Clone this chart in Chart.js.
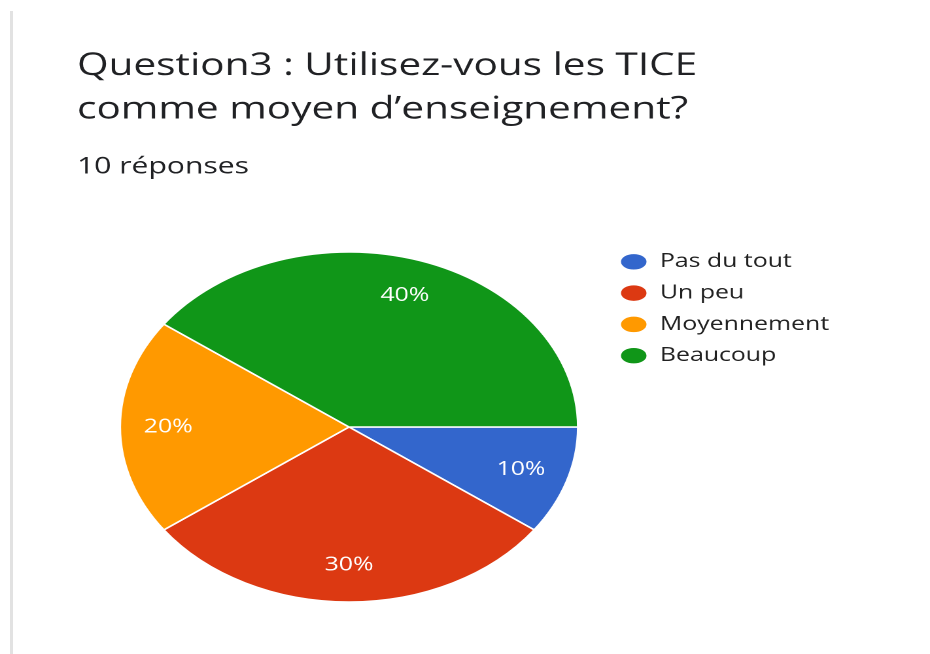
<!DOCTYPE html>
<html lang="fr">
<head>
<meta charset="utf-8">
<title>Question3</title>
<script src="https://cdn.jsdelivr.net/npm/chart.js@4.4.1/dist/chart.umd.min.js"></script>
<style>
    html, body { margin: 0; padding: 0; background: #ffffff; }
    #wrap { position: relative; width: 930px; height: 654px; overflow: hidden; }
    #edge { position: absolute; left: 10px; top: 11px; width: 3px; height: 643px; background: #e2e2e2; }
    /* the reference screenshot is stretched sideways, so the canvas is too */
    #chart { position: absolute; left: 0; top: 0; width: 930px !important; height: 654px !important; }
</style>
</head>
<body>
<div id="wrap">
    <div id="edge"></div>
    <canvas id="chart" width="711" height="654"></canvas>
</div>
<script>
// Data
const categories = ['Pas du tout', 'Un peu', 'Moyennement', 'Beaucoup'];
const responses = [1, 3, 2, 4];
const sliceColors = ['#3366cc', '#dc3912', '#ff9900', '#109618'];
const titleLines = ['Question3 : Utilisez-vous les TICE', 'comme moyen d\u2019enseignement?'];
const subtitleText = '10 r\u00e9ponses';

// Layout (canvas units, before the sideways stretch)
const FONT = "'Open Sans', sans-serif";
const W = 711;
const STRETCH = 930 / W;
const PIE_CX = 349 / STRETCH;
const PIE_R = 175;
const LABEL_R = 0.79;
const LEGEND_FONT = 19;
const LEGEND_PAD = 12.3;
const LEGEND_DOT_W = 21;
const LEGEND_LEFT = 620 / STRETCH - LEGEND_PAD;

const total = responses.reduce((a, b) => a + b, 0);

// legend width, so the legend lands where the reference has it
const measure = document.createElement('canvas').getContext('2d');
measure.font = LEGEND_FONT + 'px ' + FONT;
const longest = Math.max(...categories.map(c => measure.measureText(c).width));
const legendWidth = LEGEND_PAD + LEGEND_DOT_W + LEGEND_FONT / 2 + longest + 10;
const padRight = W - LEGEND_LEFT - legendWidth;

// moves the pie to its spot and writes the percentages
const pieLabels = {
    id: 'pieLabels',
    beforeDatasetsDraw(chart) {
        const arc = chart.getDatasetMeta(0).data[0];
        chart.ctx.save();
        chart.ctx.translate(PIE_CX - arc.x, 0);
    },
    afterDatasetsDraw(chart) {
        const ctx = chart.ctx;
        ctx.restore();
        const meta = chart.getDatasetMeta(0);
        ctx.save();
        ctx.font = '19px ' + FONT;
        ctx.fillStyle = '#ffffff';
        ctx.textAlign = 'center';
        ctx.textBaseline = 'middle';
        meta.data.forEach((arc, i) => {
            const mid = (arc.startAngle + arc.endAngle) / 2;
            const r = arc.outerRadius * LABEL_R;
            const pct = Math.round(responses[i] / total * 100) + '%';
            ctx.fillText(pct, PIE_CX + Math.cos(mid) * r, arc.y + Math.sin(mid) * r);
        });
        ctx.restore();
    }
};

new Chart(document.getElementById('chart'), {
    type: 'pie',
    data: {
        labels: categories,
        datasets: [{
            data: responses,
            backgroundColor: sliceColors,
            borderColor: '#ffffff',
            borderWidth: 1.5,
            radius: PIE_R
        }]
    },
    options: {
        responsive: false,
        animation: false,
        devicePixelRatio: 2,
        rotation: 90,
        layout: {
            padding: { top: 0, left: 77 / STRETCH, right: padRight, bottom: 40 }
        },
        plugins: {
            title: {
                display: true,
                text: titleLines,
                align: 'start',
                color: '#202124',
                font: { family: FONT, size: 31, weight: 'normal', lineHeight: 1.403 },
                padding: { top: 44.25, bottom: 0 }
            },
            subtitle: {
                display: true,
                text: subtitleText,
                align: 'start',
                color: '#202124',
                font: { family: FONT, size: 23, weight: 'normal', lineHeight: 1.2 },
                padding: { top: 21.95, bottom: 59.2 }
            },
            legend: {
                position: 'right',
                align: 'start',
                title: {
                    display: true,
                    text: ' ',
                    font: { size: 10, lineHeight: 1 },
                    padding: { top: 230, bottom: 0 }
                },
                labels: {
                    usePointStyle: true,
                    pointStyle: 'circle',
                    pointStyleWidth: LEGEND_DOT_W,
                    boxHeight: 12,
                    padding: LEGEND_PAD,
                    color: '#212121',
                    font: { family: FONT, size: LEGEND_FONT }
                }
            },
            tooltip: { enabled: false }
        }
    },
    plugins: [pieLabels]
});
</script>
</body>
</html>
